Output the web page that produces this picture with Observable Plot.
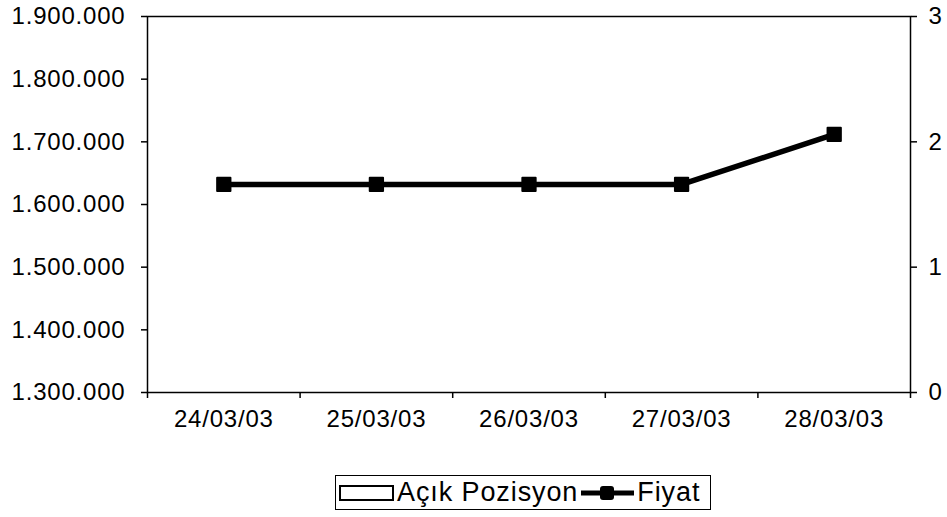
<!DOCTYPE html>
<html>
<head>
<meta charset="utf-8">
<script src="https://cdn.jsdelivr.net/npm/d3@7"></script>
<script src="https://cdn.jsdelivr.net/npm/@observablehq/plot@0.6"></script>
<style>
  html, body { margin: 0; padding: 0; background: white; }
  #wrap { position: relative; width: 947px; height: 517px; font-family: "Liberation Sans", Arial, sans-serif; }
  #legend {
    position: absolute; left: 335px; top: 475px; width: 376px; height: 35px;
    border: 1.5px solid black; box-sizing: border-box;
    display: flex; align-items: center; font-size: 27px; letter-spacing: 0.9px; color: black;
    white-space: nowrap;
  }
  #legend .sw { margin-left: 3px; margin-right: 3px; flex: none; }
</style>
</head>
<body>
<div id="wrap">
  <div id="chart"></div>
  <div id="legend">
    <svg class="sw" width="55" height="18"><rect x="1" y="2" width="53" height="14" fill="white" stroke="black" stroke-width="2"/></svg>
    <span>Açık Pozisyon</span>
    <svg class="sw" width="53" height="18"><line x1="0" y1="9" x2="53" y2="9" stroke="black" stroke-width="5"/><rect x="19" y="2" width="14" height="14" rx="3" fill="black"/></svg>
    <span>Fiyat</span>
  </div>
</div>
<script>
const dates = ["24/03/03", "25/03/03", "26/03/03", "27/03/03", "28/03/03"];
const fiyat = [1632000, 1632000, 1632000, 1632000, 1712000];
const acikPozisyon = [0, 0, 0, 0, 0];
const leftTicks = [1300000, 1400000, 1500000, 1600000, 1700000, 1800000, 1900000];
const rightTicks = [0, 1, 2, 3];

const leftMin = 1300000, leftMax = 1900000, rightMax = 3;
const toLeft = v => leftMin + v * (leftMax - leftMin) / rightMax;

const data = dates.map((d, i) => ({ i, date: d, fiyat: fiyat[i], acik: acikPozisyon[i] }));
const fmt = d => d3.format(",")(d).replace(/,/g, ".");

const chart = Plot.plot({
  width: 947,
  height: 450,
  marginLeft: 147,
  marginRight: 37,
  marginTop: 16,
  marginBottom: 58,
  style: { fontFamily: "'Liberation Sans', Arial, sans-serif", fontSize: "24px", letterSpacing: "0.8px", color: "black", background: "white", overflow: "visible" },
  x: { type: "linear", domain: [-0.5, 4.5] },
  y: { domain: [leftMin, leftMax] },
  marks: [
    Plot.frame({ stroke: "black", strokeWidth: 1.5 }),
    Plot.axisY({ ticks: leftTicks, tickFormat: fmt, tickSize: 6, tickPadding: 16, strokeWidth: 1.5, label: null }),
    Plot.axisY({ anchor: "right", ticks: rightTicks.map(toLeft), tickFormat: v => String(Math.round((v - leftMin) * rightMax / (leftMax - leftMin))), tickSize: 6, tickPadding: 12, strokeWidth: 1.5, label: null }),
    Plot.axisX({ ticks: dates.map((d, i) => i), tickFormat: i => dates[i], tickSize: 0, tickPadding: 17, label: null }),
    Plot.axisX({ ticks: d3.range(dates.length + 1).map(k => k - 0.5), tickFormat: () => "", tickSize: 6, strokeWidth: 1.5, label: null }),
    Plot.line(data, { x: "i", y: "fiyat", stroke: "black", strokeWidth: 5.5 }),
    Plot.dot(data, { x: "i", y: "fiyat", symbol: "square", r: 7.5, fill: "black", stroke: "black", strokeWidth: 2, strokeLinejoin: "round" })
  ]
});
document.getElementById("chart").appendChild(chart);
</script>
</body>
</html>
